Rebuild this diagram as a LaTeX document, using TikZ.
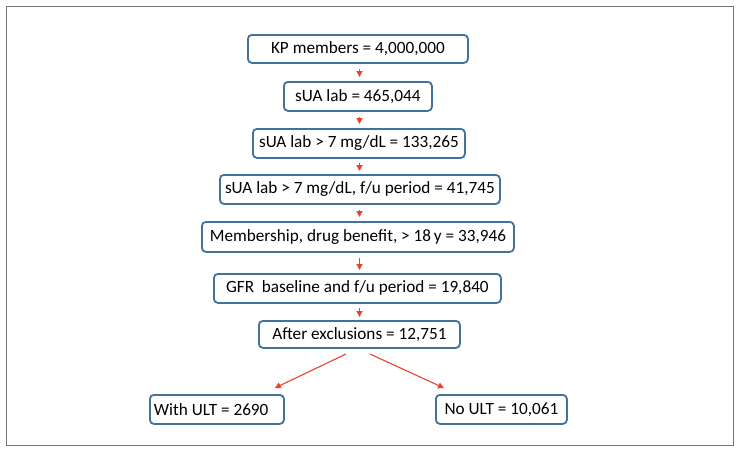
\documentclass[tikz,border=0pt]{standalone}
\usepackage{fontspec}
\setmainfont{Carlito}
\usetikzlibrary{arrows.meta}
\definecolor{boxblue}{HTML}{41719C}
\definecolor{arrred}{HTML}{E8412C}
\tikzset{
  flowbox/.style={draw=boxblue, line width=1.8pt, rounded corners=4pt, fill=white, font=\fontsize{17.2}{20}\selectfont, inner sep=0pt, anchor=north west},
  flowarr/.style={draw=arrred, line width=1.1pt, -{Triangle[length=6pt,width=6pt]}}
}
\begin{document}
\begin{tikzpicture}[x=1pt,y=-1pt]
\useasboundingbox (0,0) rectangle (741,453);
\draw[draw=gray!90!black, line width=1.5pt] (6.5,6.5) rectangle (733.5,445.5);
\coordinate (ax) at (359.5,0);
\node[flowbox, minimum width=220pt, minimum height=28pt] (b1) at (247,34) {KP members = 4,000,000};
\node[flowbox, minimum width=148pt, minimum height=29pt] (b2) at (283,81) {sUA lab = 465,044};
\node[flowbox, minimum width=212pt, minimum height=29pt] (b3) at (252,128) {sUA lab > 7 mg/dL = 133,265};
\node[flowbox, minimum width=280pt, minimum height=29pt] (b4) at (219,174) {sUA lab > 7 mg/dL, f/u period = 41,745};
\node[flowbox, minimum width=312pt, minimum height=30pt] (b5) at (201,221) {Membership, drug benefit, > 18\,y = 33,946};
\node[flowbox, minimum width=287pt, minimum height=29pt] (b6) at (213,273) {GFR\ \ baseline and f/u period = 19,840};
\node[flowbox, minimum width=201pt, minimum height=27pt] (b7) at (258,320) {After exclusions = 12,751};
\node[flowbox, minimum width=134pt, minimum height=29pt] (b8) at (149,394) {\makebox[126pt][l]{With ULT = 2690}};
\node[flowbox, minimum width=131pt, minimum height=29pt] (b9) at (435,394) {No ULT = 10,061};
\draw[flowarr] ([yshift=-5pt]b1.south -| ax) -- ([yshift=4pt]b2.north -| ax);
\draw[flowarr] ([yshift=-5pt]b2.south -| ax) -- ([yshift=4pt]b3.north -| ax);
\draw[flowarr] ([yshift=-4pt]b3.south -| ax) -- ([yshift=3pt]b4.north -| ax);
\draw[flowarr] ([yshift=-5pt]b4.south -| ax) -- ([yshift=4pt]b5.north -| ax);
\draw[flowarr] ([yshift=-5pt]b5.south -| ax) -- ([yshift=3pt]b6.north -| ax);
\draw[flowarr] ([yshift=-4pt]b6.south -| ax) -- ([yshift=3pt]b7.north -| ax);
\coordinate (s1) at (346,354);
\coordinate (s2) at (370,354);
\draw[flowarr] (s1) -- ([xshift=-10pt,yshift=6pt]b8.north east);
\draw[flowarr] (s2) -- ([xshift=9pt,yshift=6pt]b9.north west);
\end{tikzpicture}
\end{document}
